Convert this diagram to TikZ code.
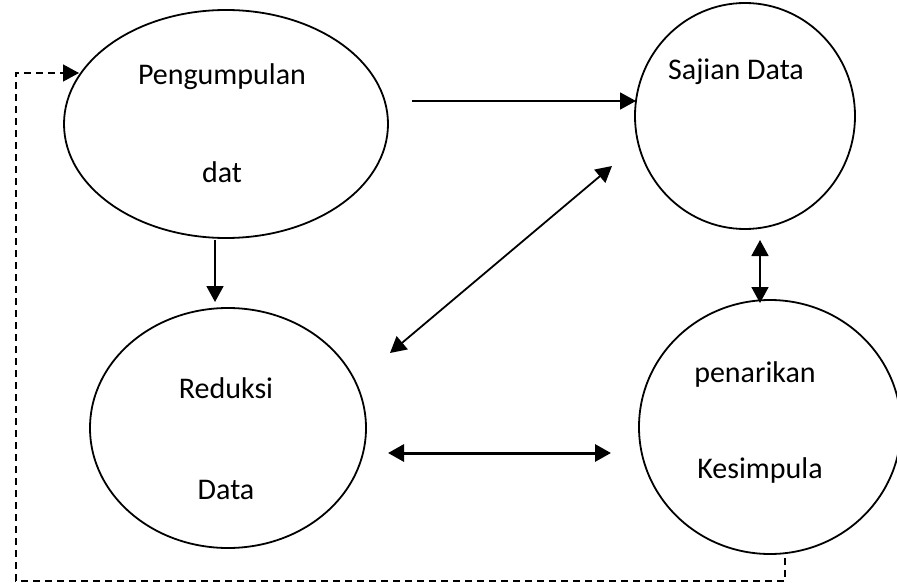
\documentclass[tikz,border=0pt]{standalone}
\usepackage{fontspec}
\setmainfont{Carlito}
\usetikzlibrary{shapes.geometric,arrows.meta}
\begin{document}
\begin{tikzpicture}[x=1pt,y=-1pt,
  bubble/.style={draw,ellipse,line width=1.8pt,inner sep=0pt},
  lbl/.style={font=\fontsize{30}{34}\selectfont,inner sep=0pt},
  tip/.style={},
  arr/.style={line width=1.8pt,-{Triangle[length=16pt,width=17pt]}},
  darr/.style={line width=1.8pt,{Triangle[length=16pt,width=17pt]}-{Triangle[length=16pt,width=17pt]}},
  dashline/.style={line width=1.4pt,dash pattern=on 7pt off 5pt}]
\useasboundingbox (0,0) rectangle (897,583);
\clip (0,0) rectangle (897,583);
\node[bubble,minimum width=324pt,minimum height=228pt] (e1) at (226,124) {};
\node[bubble,minimum width=220pt,minimum height=226pt] (e2) at (745,116) {};
\node[bubble,minimum width=276pt,minimum height=240pt] (e3) at (228,428) {};
\node[bubble,minimum width=262pt,minimum height=254pt] (e4) at (770,427) {};
\node[lbl] (t1) at (222,77) {Pengumpulan};
\node[lbl] (t2) at (222,172) {dat};
\node[lbl] (t3) at (736,72) {Sajian Data};
\node[lbl] (t4) at (226,388) {Reduksi};
\node[lbl] (t5) at (226,490) {Data};
\node[lbl] (t6) at (755,374) {penarikan};
\node[lbl] (t7) at (760,470) {Kesimpula};
\coordinate (a1s) at (412,101);
\coordinate (a1e) at (636,101);
\coordinate (a2s) at (390,353);
\coordinate (a2e) at (612,166);
\coordinate (a3s) at (215,240);
\coordinate (a3e) at (215,302);
\coordinate (a4s) at (760,240);
\coordinate (a4e) at (760,303);
\coordinate (a5s) at (388,453);
\coordinate (a5e) at (611,453);
\draw[arr] (a1s) -- (a1e);
\draw[darr] (a2s) -- (a2e);
\draw[arr] (a3s) -- (a3e);
\draw[darr] (a4s) -- (a4e);
\draw[darr,line width=3pt] (a5s) -- (a5e);
\coordinate (d1) at (785,558);
\coordinate (d2) at (785,581);
\coordinate (d3) at (16,581);
\coordinate (d4) at (16,73);
\coordinate (d5) at (79,73);
\draw[dashline,-{Triangle[length=16pt,width=17pt]}] (d1) -- (d2) -- (d3) -- (d4) -- (d5);
\end{tikzpicture}
\end{document}
